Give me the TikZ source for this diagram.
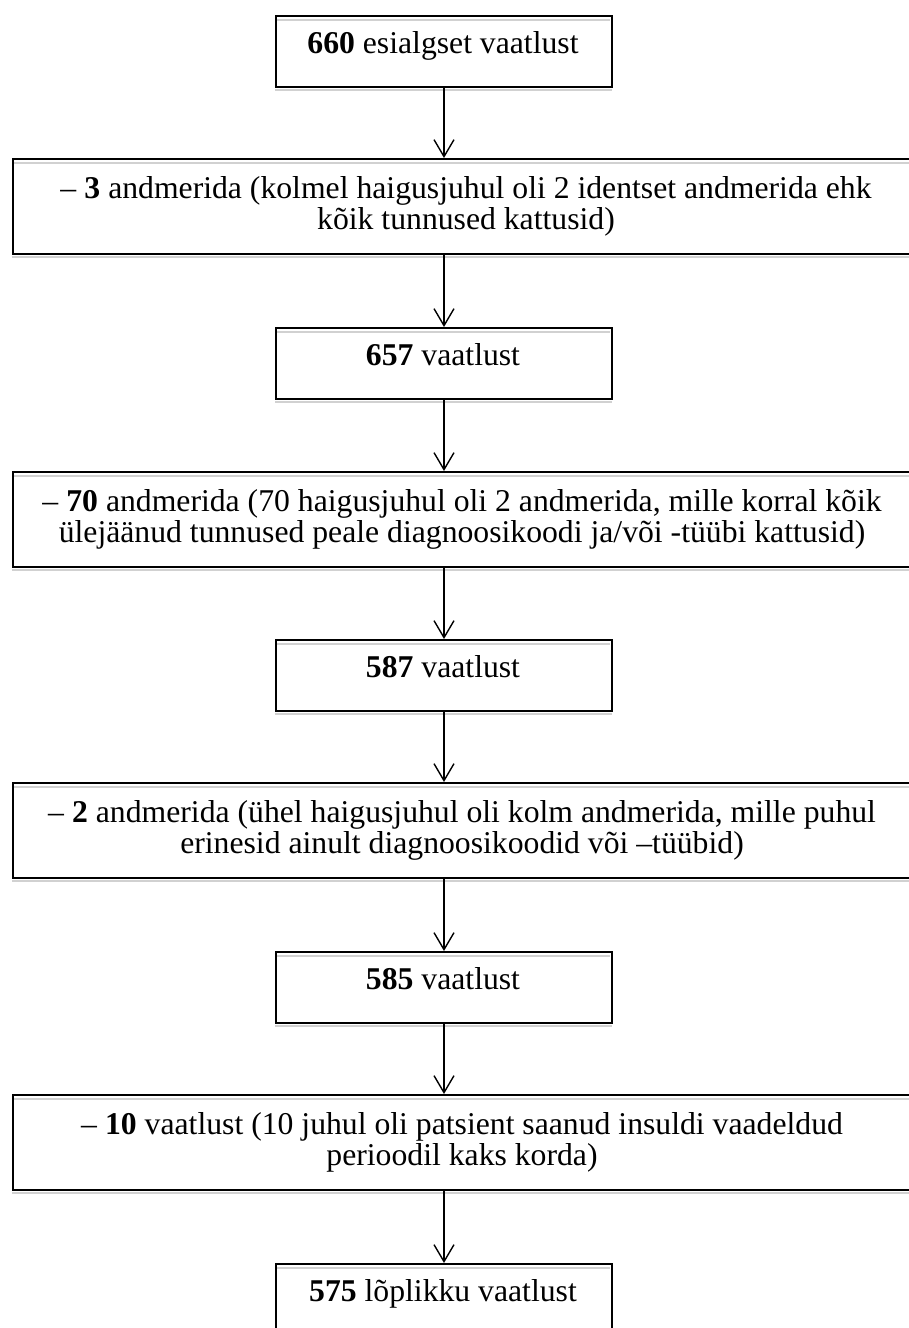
\documentclass[tikz,border=0pt]{standalone}
\usepackage{fontspec}
\setmainfont{Liberation Serif}
\usetikzlibrary{arrows.meta}
\tikzset{
  boxsmall/.style={draw=black, line width=2pt, rectangle, minimum width=336pt, minimum height=71pt, inner sep=0pt, anchor=north west},
  boxwide/.style={draw=black, line width=2pt, rectangle, minimum width=903pt, minimum height=95pt, inner sep=0pt, anchor=north west},
  txt/.style={font=\fontsize{31.7}{36.5}\selectfont, inner sep=0pt, anchor=base},
  shade/.style={draw=black!18, line width=2pt},
  arr/.style={draw=black, line width=1.4pt, -{Straight Barb[length=17pt,width=20pt,line width=1.4pt]}},
}
\begin{document}
\begin{tikzpicture}[x=1pt,y=-1pt]
\useasboundingbox (0,0) rectangle (909,1328);
\clip (0,0) rectangle (909,1328);
% boxes
\foreach \t/\n in {15/b1,327/b3,639/b5,951/b7,1263/b9}{
  \draw[shade] (276,\t+4.5) -- (610,\t+4.5);
  \draw[shade] (275,\t+75) -- (612,\t+75);
  \node[boxsmall] (\n) at (275,\t) {};
}
\foreach \t/\n in {158/b2,471/b4,782/b6,1094/b8}{
  \draw[shade] (13,\t+4.5) -- (915,\t+4.5);
  \draw[shade] (12,\t+99) -- (915,\t+99);
  \node[boxwide] (\n) at (12,\t) {};
}
% texts
\node[txt] (t1) at (443,53) {\textbf{660} esialgset vaatlust};
\node[txt] (t2a) at (466,198) {– \textbf{3} andmerida (kolmel haigusjuhul oli 2 identset andmerida ehk};
\node[txt] (t2b) at (466,229) {kõik tunnused kattusid)};
\node[txt] (t3) at (443,365) {\textbf{657} vaatlust};
\node[txt] (t4a) at (462,511) {– \textbf{70} andmerida (70 haigusjuhul oli 2 andmerida, mille korral kõik};
\node[txt] (t4b) at (462,542) {ülejäänud tunnused peale diagnoosikoodi ja/või -tüübi kattusid)};
\node[txt] (t5) at (443,677) {\textbf{587} vaatlust};
\node[txt] (t6a) at (462,822) {– \textbf{2} andmerida (ühel haigusjuhul oli kolm andmerida, mille puhul};
\node[txt] (t6b) at (462,853) {erinesid ainult diagnoosikoodid või –tüübid)};
\node[txt] (t7) at (443,989) {\textbf{585} vaatlust};
\node[txt] (t8a) at (462,1134) {– \textbf{10} vaatlust (10 juhul oli patsient saanud insuldi vaadeldud};
\node[txt] (t8b) at (462,1165) {perioodil kaks korda)};
\node[txt] (t9) at (443,1301) {\textbf{575} lõplikku vaatlust};
% arrows
\draw[arr] (b1.south) -- (b1.south |- b2.north);
\draw[arr] (b3.north |- b2.south) -- (b3.north);
\draw[arr] (b3.south) -- (b3.south |- b4.north);
\draw[arr] (b5.north |- b4.south) -- (b5.north);
\draw[arr] (b5.south) -- (b5.south |- b6.north);
\draw[arr] (b7.north |- b6.south) -- (b7.north);
\draw[arr] (b7.south) -- (b7.south |- b8.north);
\draw[arr] (b9.north |- b8.south) -- (b9.north);
\end{tikzpicture}
\end{document}
